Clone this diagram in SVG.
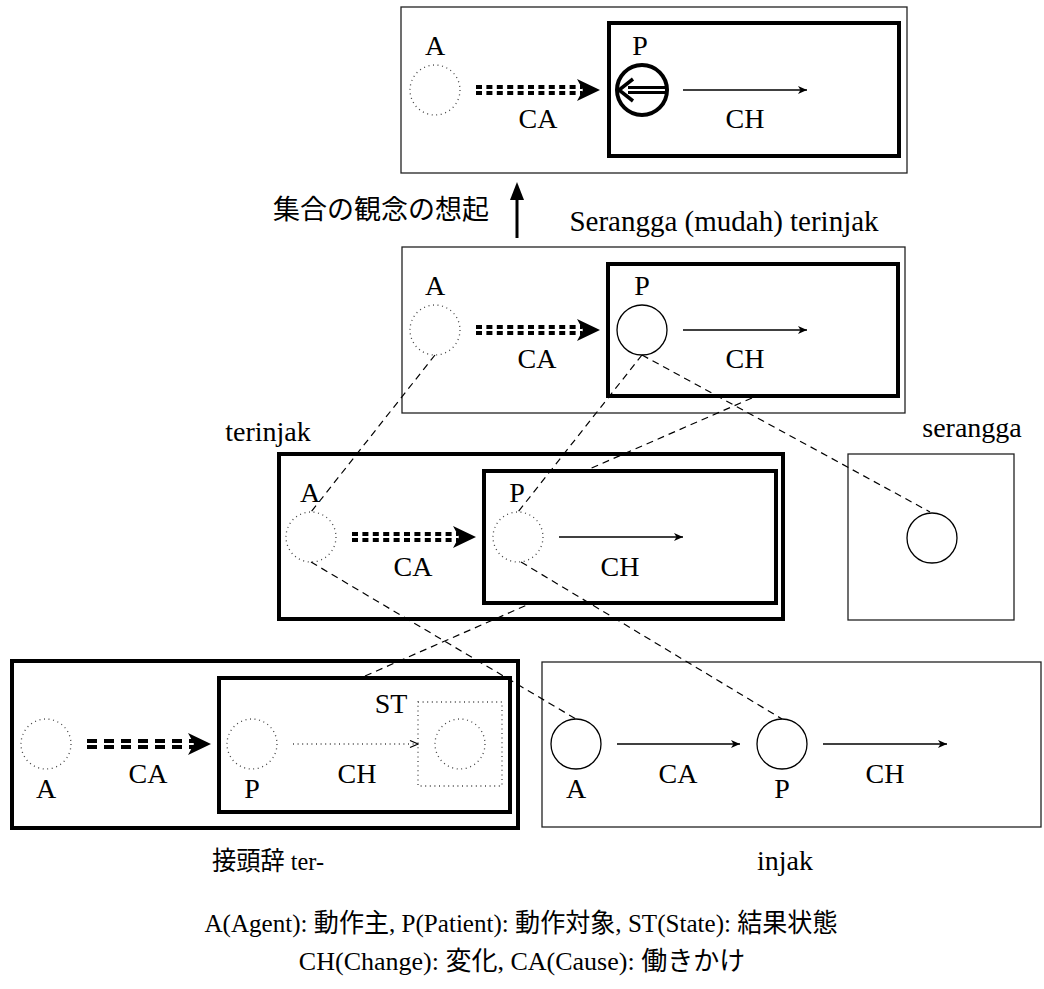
<svg xmlns="http://www.w3.org/2000/svg" width="1044" height="989" viewBox="0 0 1044 989">
<style>
text{font-family:"Liberation Serif","Noto Sans CJK JP",serif;font-size:28px;fill:#000;text-anchor:middle}
.jp{font-size:26px}
.thin{fill:none;stroke:#222;stroke-width:1.3}
.thick{fill:none;stroke:#000;stroke-width:4}
.dot{fill:none;stroke:#444;stroke-width:1.3;stroke-dasharray:1 3.6}
.solid{fill:none;stroke:#000;stroke-width:1.3}
.ca{stroke:#000;stroke-width:4;stroke-dasharray:6 4.4}
.ca2{stroke:#000;stroke-width:4;stroke-dasharray:10 7}
.arr{stroke:#000;stroke-width:1.3;marker-end:url(#ah)}
.dash{stroke:#000;stroke-width:1.2;stroke-dasharray:7 5;fill:none}
</style>
<defs>
<marker id="ah" markerWidth="10" markerHeight="10" refX="9" refY="4" orient="auto" markerUnits="userSpaceOnUse">
<path d="M0,0 L9,4 L0,8 L2.5,4 Z" fill="#000"/>
</marker>
<marker id="ahd" markerWidth="10" markerHeight="10" refX="9" refY="4" orient="auto" markerUnits="userSpaceOnUse">
<path d="M1,0.5 L9,4 L1,7.5" fill="none" stroke="#000" stroke-width="1.2"/>
</marker>
<path id="bighead" d="M0,0 L-23,-11 L-17,0 L-23,11 Z" fill="#000"/>
</defs>

<g id="box1">
<rect x="401" y="7" width="506" height="166" class="thin"/>
<rect x="609" y="23" width="290" height="133" class="thick"/>
<circle cx="435" cy="90" r="25" class="dot"/>
<text x="435" y="55">A</text>
<line x1="476" y1="87" x2="582" y2="87" class="ca"/>
<line x1="476" y1="93" x2="582" y2="93" class="ca"/>
<use href="#bighead" x="600" y="90"/>
<text x="538" y="128">CA</text>
<circle cx="642" cy="90" r="25" class="thick"/>
<line x1="628" y1="87.5" x2="667" y2="87.5" stroke="#000" stroke-width="3"/>
<line x1="628" y1="92.5" x2="667" y2="92.5" stroke="#000" stroke-width="3"/>
<path d="M633,79 L619,90 L633,101" fill="none" stroke="#000" stroke-width="3.5"/>
<text x="640" y="55">P</text>
<line x1="683" y1="90" x2="807" y2="90" class="arr"/>
<text x="745" y="128">CH</text>
</g>

<g id="upArrow">
<line x1="517" y1="238" x2="517" y2="196" stroke="#000" stroke-width="3"/>
<path d="M517,182 L524,200 L510,200 Z" fill="#000"/>
<text x="273" y="219" class="jp" style="text-anchor:start;font-size:27px">集合の観念の想起</text>
</g>

<g id="box2">
<text x="724" y="231" style="font-size:29px">Serangga (mudah) terinjak</text>
<rect x="402" y="247" width="503" height="166" class="thin"/>
<rect x="608" y="264" width="290" height="132" class="thick"/>
<circle cx="435" cy="330" r="25" class="dot"/>
<text x="435" y="295">A</text>
<line x1="476" y1="327" x2="582" y2="327" class="ca"/>
<line x1="476" y1="333" x2="582" y2="333" class="ca"/>
<use href="#bighead" x="600" y="330"/>
<text x="537" y="368">CA</text>
<circle cx="642" cy="330" r="25" class="solid"/>
<text x="642" y="295">P</text>
<line x1="683" y1="330" x2="807" y2="330" class="arr"/>
<text x="745" y="368">CH</text>
</g>

<g id="terinjak">
<text x="268" y="441">terinjak</text>
<rect x="279" y="454" width="504" height="165" class="thick"/>
<rect x="484" y="471" width="292" height="132" class="thick"/>
<circle cx="311" cy="537" r="25" class="dot"/>
<text x="310" y="502">A</text>
<line x1="352" y1="534" x2="458" y2="534" class="ca"/>
<line x1="352" y1="540" x2="458" y2="540" class="ca"/>
<use href="#bighead" x="476" y="537"/>
<text x="413" y="576">CA</text>
<circle cx="518" cy="537" r="25" class="dot"/>
<text x="517" y="502">P</text>
<line x1="559" y1="537" x2="683" y2="537" class="arr"/>
<text x="620" y="576">CH</text>
</g>

<g id="serangga">
<text x="972" y="437">serangga</text>
<rect x="848" y="454" width="166" height="166" class="thin"/>
<circle cx="932" cy="538" r="25" class="solid"/>
</g>

<g id="ter">
<rect x="12" y="661" width="506" height="167" class="thick"/>
<rect x="219" y="678" width="291" height="134" class="thick"/>
<circle cx="46" cy="744" r="25" class="dot"/>
<text x="46" y="798">A</text>
<line x1="87" y1="741" x2="195" y2="741" class="ca2"/>
<line x1="87" y1="747" x2="195" y2="747" class="ca2"/>
<use href="#bighead" x="211" y="744"/>
<text x="148" y="783">CA</text>
<circle cx="252" cy="744" r="25" class="dot"/>
<text x="252" y="798">P</text>
<line x1="293" y1="744" x2="418" y2="744" class="dot" style="marker-end:url(#ahd)"/>
<text x="357" y="783">CH</text>
<rect x="418" y="702" width="84" height="84" class="dot"/>
<circle cx="460" cy="744" r="25" class="dot"/>
<text x="391" y="713">ST</text>
<text x="268" y="870" class="jp" textLength="112" lengthAdjust="spacingAndGlyphs">接頭辞 ter-</text>
</g>

<g id="injak">
<rect x="542" y="662" width="499" height="165" class="thin"/>
<circle cx="576" cy="744" r="25" class="solid"/>
<text x="576" y="798">A</text>
<line x1="617" y1="744" x2="740" y2="744" class="arr"/>
<text x="678" y="783">CA</text>
<circle cx="782" cy="744" r="25" class="solid"/>
<text x="782" y="798">P</text>
<line x1="823" y1="744" x2="947" y2="744" class="arr"/>
<text x="885" y="783">CH</text>
<text x="785" y="870">injak</text>
</g>

<g id="connectors">
<line x1="435" y1="355" x2="311" y2="512" class="dash"/>
<line x1="642" y1="355" x2="518" y2="512" class="dash"/>
<line x1="642" y1="355" x2="930" y2="512" class="dash"/>
<line x1="752" y1="398" x2="587" y2="470" class="dash"/>
<line x1="365" y1="676" x2="527" y2="605" class="dash"/>
<line x1="311" y1="562" x2="576" y2="719" class="dash"/>
<line x1="521" y1="562" x2="782" y2="719" class="dash"/>
</g>

<g id="legend">
<text x="521" y="932" class="jp" textLength="633" lengthAdjust="spacingAndGlyphs">A(Agent): 動作主, P(Patient): 動作対象, ST(State): 結果状態</text>
<text x="522" y="970" class="jp">CH(Change): 変化, CA(Cause): 働きかけ</text>
</g>
</svg>
